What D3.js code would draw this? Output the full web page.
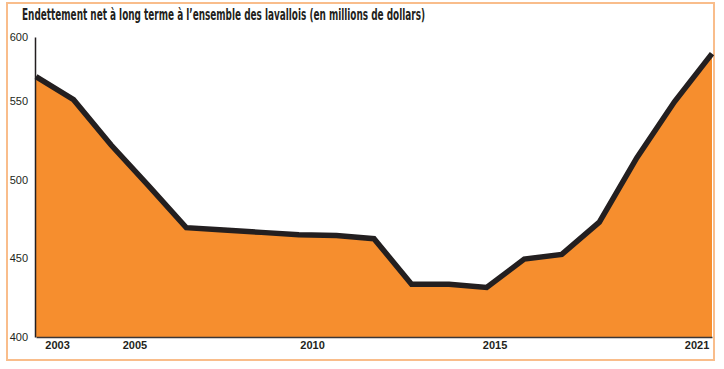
<!DOCTYPE html>
<html>
<head>
<meta charset="utf-8">
<script src="https://cdn.jsdelivr.net/npm/d3@7"></script>
<style>
  body { margin: 0; background: #fff; }
  svg { display: block; }
</style>
</head>
<body>
<script>
// years and net long-term debt (millions $)
const years = [2003, 2004, 2005, 2006, 2007, 2008, 2009, 2010, 2011, 2012,
  2013, 2014, 2015, 2016, 2017, 2018, 2019, 2020, 2021];
const debt = [569, 551, 522, 496, 469.5, 468, 466.5, 465, 464.5, 462.5,
  433.5, 433.5, 431.5, 449.5, 452.5, 473, 514, 549.5, 587];

// axis labels as printed on the original
const yTicks = [400, 450, 500, 550, 600];
const xTickAt = [2003.56, 2005.62, 2010.35, 2015.21, 2020.59];
const xTickLabels = ['2003', '2005', '2010', '2015', '2021'];

const title = 'Endettement net à long terme à l\u2019ensemble des lavallois (en millions de dollars)';

let width = 724,
  height = 369;

const data = years.map((y, i) => ({ year: y, value: debt[i] }));

let svg = d3
  .select('body')
  .append('svg')
  .attr('width', width)
  .attr('height', height);

// frame
svg.append('rect')
  .attr('x', 7).attr('y', 3)
  .attr('width', 707).attr('height', 357)
  .attr('fill', 'none')
  .attr('stroke', '#f9bd8b')
  .attr('stroke-width', 2);

svg.append('text')
  .attr('x', 22).attr('y', 20)
  .attr('font-family', '"Liberation Sans Narrow", "DejaVu Sans Condensed", sans-serif')
  .attr('font-weight', 'bold')
  .attr('font-size', 16)
  .attr('fill', '#231f20')
  .attr('textLength', 403)
  .attr('lengthAdjust', 'spacingAndGlyphs')
  .text(title);

// scales
let x = d3.scaleLinear().domain([2003, 2021]).range([36, 712]);
// the printed axis is not evenly spaced at the top, follow the picture
let y = d3.scaleLinear().domain([400, 550, 600]).range([337, 101, 37]);

let area = d3.area()
  .x(d => x(d.year))
  .y0(y(400))
  .y1(d => y(d.value));

let line = d3.line()
  .x(d => x(d.year))
  .y(d => y(d.value));

svg.append('path')
  .datum(data)
  .attr('d', area)
  .attr('fill', '#f68e2e');

svg.append('path')
  .datum(data)
  .attr('d', line)
  .attr('fill', 'none')
  .attr('stroke', '#231f20')
  .attr('stroke-width', 5.5)
  .attr('stroke-linejoin', 'miter');

// y axis
let yAxis = svg.append('g')
  .attr('transform', 'translate(35,0)')
  .call(d3.axisLeft(y).tickValues(yTicks).tickSize(0).tickPadding(7).tickFormat(d3.format('d')));
yAxis.select('.domain').attr('stroke', '#231f20').attr('stroke-width', 1.5);
yAxis.selectAll('text')
  .attr('font-family', '"Liberation Sans", Arial, sans-serif')
  .attr('font-size', 11)
  .attr('fill', '#231f20');

// x axis
let xAxis = svg.append('g')
  .attr('transform', 'translate(0,337)')
  .call(d3.axisBottom(x).tickValues(xTickAt).tickSize(0).tickPadding(4)
    .tickFormat((d, i) => xTickLabels[i]));
xAxis.select('.domain').attr('stroke', '#3a3637').attr('stroke-width', 1.5);
xAxis.selectAll('text')
  .attr('font-family', '"Liberation Sans", Arial, sans-serif')
  .attr('font-weight', 'bold')
  .attr('font-size', 11)
  .attr('fill', '#231f20');
</script>
</body>
</html>
